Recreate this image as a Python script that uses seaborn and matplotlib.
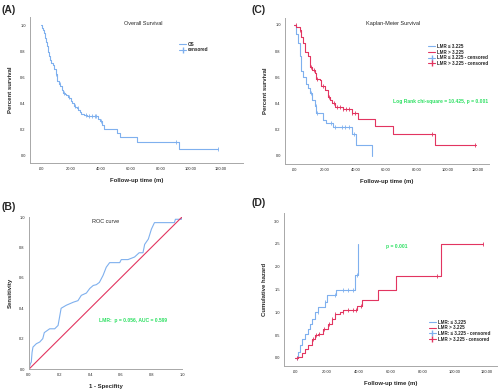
import numpy as np
import pandas as pd
import matplotlib
matplotlib.use("Agg")
import matplotlib.pyplot as plt
import seaborn as sns
from matplotlib.lines import Line2D

# (A) overall survival, step function
os_time = [0, 1, 1.5, 2, 2.5, 3, 3.5, 4, 4.5, 5, 5.5, 6, 7, 8, 9, 10, 10.5, 11, 12, 13,
           14, 15, 16, 17, 18, 19, 20, 21, 22, 23, 24, 25, 26, 27, 29, 31, 38, 39.5, 41,
           42, 50.5, 52.5, 64, 92, 118]
os_surv = [1.0, 0.98, 0.96, 0.94, 0.92, 0.90, 0.87, 0.84, 0.81, 0.79, 0.76, 0.73, 0.71,
           0.69, 0.66, 0.62, 0.59, 0.57, 0.55, 0.53, 0.50, 0.48, 0.47, 0.46, 0.45, 0.44,
           0.42, 0.40, 0.38, 0.37, 0.36, 0.345, 0.33, 0.32, 0.31, 0.30, 0.28, 0.26, 0.23,
           0.205, 0.17, 0.14, 0.10, 0.05, 0.05]
os_cens = [10.2, 12.5, 15.5, 18.5, 22.5, 24.5, 30, 32, 34, 36, 37, 40, 90, 118]

# (C) Kaplan-Meier by LMR group
low_time = [0, 1.5, 2.6, 3.7, 4.8, 5.9, 8, 9.2, 10.3, 11.4, 13.5, 14.6, 19, 21, 25.5,
            37.5, 40.4, 50.6]
low_surv = [1.0, 0.93, 0.86, 0.76, 0.65, 0.60, 0.55, 0.52, 0.48, 0.43, 0.38, 0.33, 0.27,
            0.25, 0.22, 0.17, 0.085, 0.0]
low_cens = [11, 14, 15, 24, 27, 31, 33, 36, 39]

high_time = [0, 1.5, 3.7, 4.8, 5.9, 7, 9.2, 10.3, 11.4, 13.5, 14.6, 16.8, 17.9, 20, 22.3,
             23.4, 24.5, 26.6, 32, 37.5, 41.9, 52.8, 64.4, 92, 119]
high_surv = [1.0, 0.985, 0.96, 0.91, 0.86, 0.79, 0.76, 0.68, 0.655, 0.63, 0.59, 0.58,
             0.53, 0.50, 0.45, 0.43, 0.40, 0.375, 0.36, 0.33, 0.28, 0.23, 0.17, 0.085,
             0.085]
high_cens = [1, 4, 11, 13, 15, 19, 23, 26, 28, 30, 32, 34, 36, 38, 40, 90, 118]

# (B) ROC curve
roc_fpr = [0, 0.009, 0.015, 0.02, 0.026, 0.048, 0.07, 0.09, 0.10, 0.135, 0.168, 0.19,
           0.21, 0.244, 0.29, 0.32, 0.342, 0.375, 0.397, 0.42, 0.44, 0.46, 0.484, 0.505,
           0.527, 0.593, 0.603, 0.647, 0.69, 0.72, 0.745, 0.756, 0.78, 0.80, 0.82, 0.95,
           0.957, 0.996, 1.0]
roc_tpr = [0, 0.035, 0.046, 0.11, 0.145, 0.167, 0.178, 0.20, 0.24, 0.265, 0.265, 0.287,
           0.40, 0.42, 0.44, 0.45, 0.485, 0.50, 0.53, 0.55, 0.555, 0.57, 0.616, 0.67,
           0.70, 0.70, 0.72, 0.72, 0.737, 0.765, 0.765, 0.82, 0.855, 0.92, 0.963, 0.963,
           0.985, 0.985, 1.0]

# (D) cumulative hazard by LMR group
hz_low_time = [0, 2, 3, 4.2, 6.2, 8.3, 9.4, 10.4, 12.5, 14.6, 18.7, 19.8, 25.6, 37.4,
               39.5]
hz_low_val = [0, 0.13, 0.28, 0.42, 0.53, 0.64, 0.75, 0.86, 1.0, 1.12, 1.23, 1.38, 1.5,
              1.81, 2.49]
hz_low_cens = [1.5, 14.5, 19, 25, 30, 33, 36, 38.5]

hz_high_time = [0, 2, 4.2, 6.2, 8.3, 10.4, 12.5, 14.6, 17.7, 20.8, 22.9, 25, 28, 30.1,
                38.5, 41.6, 52, 63, 91, 117.5]
hz_high_val = [0, 0.02, 0.1, 0.2, 0.28, 0.42, 0.5, 0.53, 0.64, 0.75, 0.86, 0.97, 1.01,
               1.05, 1.13, 1.28, 1.5, 1.79, 2.49, 2.49]
hz_high_cens = [1, 11, 13, 15, 18, 21, 23, 25, 30, 33, 36, 38, 41, 89, 117.5]

time_ticks = [0, 20, 40, 60, 80, 100, 120]

BLUE = "#7fb0ee"
RED = "#e23560"
GREEN = "#2ee063"
GREY = "#a8a8a8"

sns.set_style("white")
plt.rcParams["font.family"] = ["Liberation Sans", "DejaVu Sans"]


def step_value(times, vals, t):
    idx = np.searchsorted(np.asarray(times), t, side="right") - 1
    return np.asarray(vals)[idx]


def draw_step(ax, times, vals, cens, color):
    df = pd.DataFrame({"t": times, "v": vals})
    sns.lineplot(data=df, x="t", y="v", ax=ax, color=color, lw=0.8,
                 drawstyle="steps-post", estimator=None, legend=False)
    cdf = pd.DataFrame({"t": cens, "v": step_value(times, vals, cens)})
    ax.plot(cdf["t"], cdf["v"], ls="none", marker="|", ms=2.5, mew=0.6, color=color)


def style_axes(ax, xlabel, ylabel):
    for s in ["top", "right"]:
        ax.spines[s].set_visible(False)
    for s in ["left", "bottom"]:
        ax.spines[s].set_color(GREY)
        ax.spines[s].set_linewidth(0.7)
    ax.tick_params(length=0, labelsize=2.9, pad=3)
    ax.set_xlabel(xlabel, fontsize=4.3, fontweight="bold", labelpad=5)
    ax.set_ylabel(ylabel, fontsize=4.3, fontweight="bold", labelpad=5)


def time_labels(ax):
    ax.set_xticks(time_ticks)
    ax.set_xticklabels([f"{v:.2f}" if v else ".00" for v in time_ticks])


def group_legend(ax, labels, anchor):
    handles = [Line2D([], [], color=BLUE, lw=0.8), Line2D([], [], color=RED, lw=0.8),
               Line2D([], [], color=BLUE, lw=0.8, marker="|", ms=4),
               Line2D([], [], color=RED, lw=0.8, marker="|", ms=4)]
    ax.legend(handles, labels, loc="upper left", bbox_to_anchor=anchor, frameon=False,
              handlelength=1.6, handletextpad=0.4, labelspacing=0.15,
              prop={"weight": "bold", "size": 3.3})


fig = plt.figure(figsize=(5, 3.91), dpi=100)

# (A)
axA = fig.add_axes([0.06, 0.583, 0.426, 0.373])
draw_step(axA, os_time, os_surv, os_cens, BLUE)
axA.set_xlim(-7.3, 134.7)
axA.set_ylim(-0.06, 1.06)
axA.set_yticks(np.arange(0, 1.01, 0.2))
axA.set_yticklabels([f"{v:.1f}" for v in np.arange(0, 1.01, 0.2)])
time_labels(axA)
style_axes(axA, "Follow-up time (m)", "Percent survival")
axA.text(0.53, 0.96, "Overall Survival", transform=axA.transAxes, ha="center",
         va="center", fontsize=4)
axA.legend([Line2D([], [], color=BLUE, lw=0.8),
            Line2D([], [], color=BLUE, lw=0.8, marker="|", ms=4)],
           ["OS", "censored"], loc="upper left", bbox_to_anchor=(0.68, 0.86),
           frameon=False, handlelength=1.6, handletextpad=0.4, labelspacing=0.15,
           prop={"weight": "bold", "size": 3.3})

# (C)
axC = fig.add_axes([0.57, 0.581, 0.408, 0.373])
draw_step(axC, low_time, low_surv, low_cens, BLUE)
draw_step(axC, high_time, high_surv, high_cens, RED)
axC.set_xlim(-5.9, 127.2)
axC.set_ylim(-0.061, 1.053)
axC.set_yticks(np.arange(0, 1.01, 0.2))
axC.set_yticklabels([f"{v:.1f}" for v in np.arange(0, 1.01, 0.2)])
time_labels(axC)
style_axes(axC, "Follow-up time (m)", "Percent survival")
axC.text(0.53, 0.96, "Kaplan-Meier Survival", transform=axC.transAxes, ha="center",
         va="center", fontsize=4)
group_legend(axC, ["LMR \u2264 3.225", "LMR > 3.225", "LMR \u2264 3.225 - censored",
                   "LMR > 3.225 - censored"], (0.68, 0.85))
axC.text(95.4, 0.414, "Log Rank chi-square = 10.425, p = 0.001", ha="center",
         va="center", fontsize=3.6, fontweight="bold", color=GREEN, clip_on=False)

# (B)
axB = fig.add_axes([0.058, 0.056, 0.306, 0.389])
roc = pd.DataFrame({"fpr": roc_fpr, "tpr": roc_tpr})
sns.lineplot(data=roc, x="fpr", y="tpr", ax=axB, color=BLUE, lw=0.8, sort=False,
             estimator=None, legend=False)
ref = pd.DataFrame({"x": [0, 1], "y": [0, 1]})
sns.lineplot(data=ref, x="x", y="y", ax=axB, color=RED, lw=0.8, estimator=None,
             legend=False)
axB.set_xlim(0, 1)
axB.set_ylim(0, 1)
axB.set_xticks(np.arange(0, 1.01, 0.2))
axB.set_xticklabels([f"{v:.1f}" for v in np.arange(0, 1.01, 0.2)])
axB.set_yticks(np.arange(0, 1.01, 0.2))
axB.set_yticklabels([f"{v:.1f}" for v in np.arange(0, 1.01, 0.2)])
style_axes(axB, "1 - Specifity", "Sensitivity")
axB.text(0.5, 0.97, "ROC curve", transform=axB.transAxes, ha="center", va="center",
         fontsize=4)
axB.text(0.68, 0.32, "LMR:  p = 0.056, AUC = 0.599", ha="center", va="center",
         fontsize=3.6, fontweight="bold", color=GREEN)

# (D)
axD = fig.add_axes([0.568, 0.064, 0.426, 0.391])
draw_step(axD, hz_low_time, hz_low_val, hz_low_cens, BLUE)
draw_step(axD, hz_high_time, hz_high_val, hz_high_cens, RED)
axD.set_xlim(-6.9, 126.3)
axD.set_ylim(-0.175, 3.175)
axD.set_yticks(np.arange(0, 3.01, 0.5))
axD.set_yticklabels([f"{v:.1f}" for v in np.arange(0, 3.01, 0.5)])
time_labels(axD)
style_axes(axD, "Follow-up time (m)", "Cumulative hazard")
axD.text(63.4, 2.44, "p = 0.001", ha="center", va="center", fontsize=3.6,
         fontweight="bold", color=GREEN)
group_legend(axD, ["LMR: \u2264 3.225", "LMR > 3.225", "LMR: \u2264 3.225 - censored",
                   "LMR > 3.225 - censored"], (0.66, 0.33))

# panel letters
for x, y, s in [(0.004, 0.975, "(A)"), (0.504, 0.975, "(C)"), (0.004, 0.47, "(B)"),
                (0.504, 0.48, "(D)")]:
    fig.text(x, y, s, fontsize=7.5, fontweight="bold", va="center")

fig.savefig("out.png", dpi=100)
